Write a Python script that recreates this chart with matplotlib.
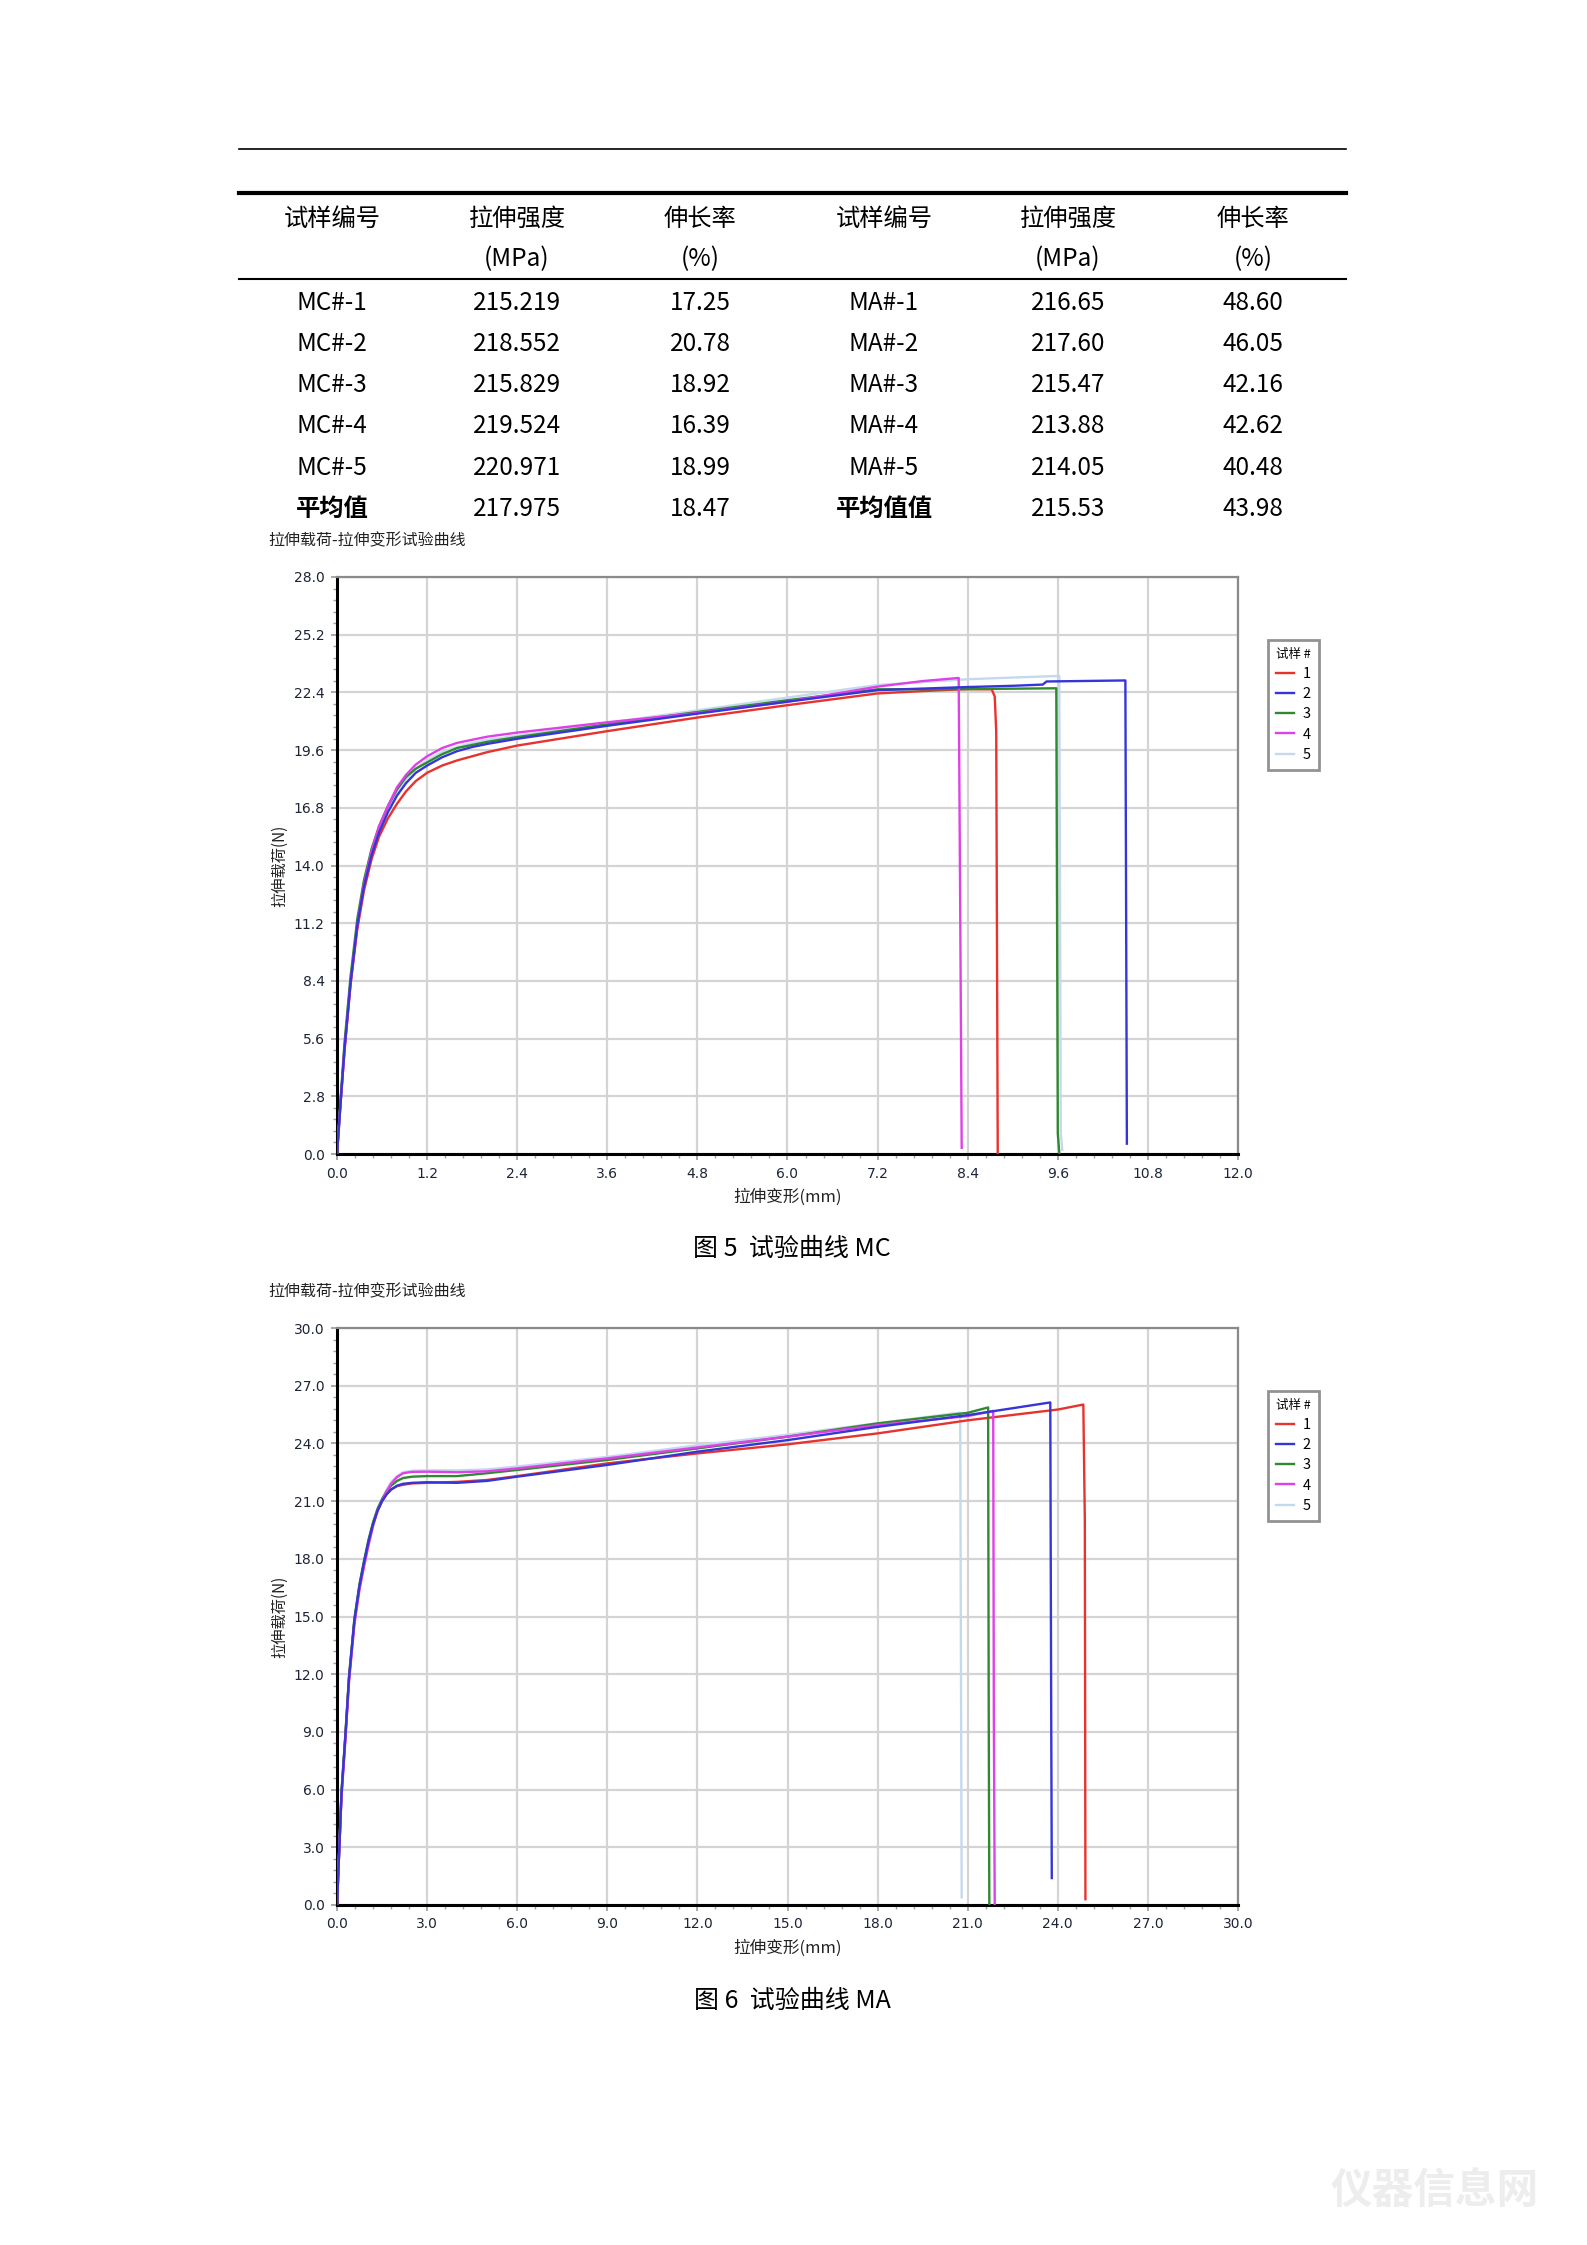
#!/usr/bin/env python3
"""
Tensile test report page: result table + load/extension curves (MC, MA)
"""

import matplotlib
matplotlib.use("Agg")
import matplotlib.pyplot as plt
from matplotlib.lines import Line2D
from matplotlib.ticker import MultipleLocator, AutoMinorLocator

plt.rcParams['font.family'] = ['Noto Sans CJK SC', 'DejaVu Sans']

W, H = 1587, 2245

# ---- table data ----
header_top = ['试样编号', '拉伸强度', '伸长率', '试样编号', '拉伸强度', '伸长率']
header_unit = ['', '(MPa)', '(%)', '', '(MPa)', '(%)']
mc_ids = ['MC#-1', 'MC#-2', 'MC#-3', 'MC#-4', 'MC#-5', '平均值']
mc_strength = ['215.219', '218.552', '215.829', '219.524', '220.971', '217.975']
mc_elong = ['17.25', '20.78', '18.92', '16.39', '18.99', '18.47']
ma_ids = ['MA#-1', 'MA#-2', 'MA#-3', 'MA#-4', 'MA#-5', '平均值值']
ma_strength = ['216.65', '217.60', '215.47', '213.88', '214.05', '215.53']
ma_elong = ['48.60', '46.05', '42.16', '42.62', '40.48', '43.98']

# ---- curve data, MC (x: mm, y: N) ----
mc_x_1 = [0, 0.05, 0.1, 0.18, 0.27, 0.36, 0.46, 0.56, 0.68, 0.8, 0.92, 1.05, 1.2, 1.4, 1.6, 1.8, 2.0, 2.4, 3.6, 4.8, 6.0, 7.2, 8.0, 8.4, 8.72, 8.76, 8.78, 8.8]
mc_y_1 = [0, 2.6, 5.0, 8.2, 10.9, 12.8, 14.3, 15.4, 16.3, 17.0, 17.6, 18.1, 18.5, 18.85, 19.1, 19.3, 19.5, 19.82, 20.52, 21.18, 21.78, 22.35, 22.5, 22.56, 22.55, 22.2, 20.5, 0.05]
mc_x_2 = [0, 0.05, 0.1, 0.18, 0.27, 0.36, 0.46, 0.56, 0.68, 0.8, 0.92, 1.05, 1.2, 1.4, 1.6, 1.8, 2.0, 2.4, 3.6, 4.8, 6.0, 7.2, 8.4, 9.0, 9.4, 9.45, 10.5, 10.52]
mc_y_2 = [0, 2.6, 5.1, 8.3, 11.1, 13.0, 14.5, 15.6, 16.6, 17.4, 18.0, 18.5, 18.85, 19.25, 19.55, 19.75, 19.9, 20.15, 20.78, 21.37, 21.95, 22.51, 22.66, 22.72, 22.78, 22.93, 22.98, 0.5]
mc_x_3 = [0, 0.05, 0.1, 0.18, 0.27, 0.36, 0.46, 0.56, 0.68, 0.8, 0.92, 1.05, 1.2, 1.4, 1.6, 1.8, 2.0, 2.4, 3.6, 4.8, 6.0, 7.2, 8.4, 9.0, 9.58, 9.6, 9.62]
mc_y_3 = [0, 2.8, 5.4, 8.6, 11.4, 13.3, 14.8, 15.9, 16.9, 17.7, 18.3, 18.7, 19.0, 19.4, 19.7, 19.85, 20.0, 20.23, 20.85, 21.45, 22.02, 22.55, 22.56, 22.58, 22.6, 1.0, 0.05]
mc_x_4 = [0, 0.05, 0.1, 0.18, 0.27, 0.36, 0.46, 0.56, 0.68, 0.8, 0.92, 1.05, 1.2, 1.4, 1.6, 1.8, 2.0, 2.4, 3.6, 4.8, 6.0, 7.2, 7.8, 8.28, 8.3, 8.32]
mc_y_4 = [0, 2.6, 5.1, 8.3, 11.1, 13.1, 14.7, 15.9, 16.9, 17.8, 18.4, 18.9, 19.3, 19.7, 19.95, 20.1, 20.25, 20.45, 20.95, 21.4, 21.95, 22.68, 22.95, 23.1, 12.0, 0.3]
mc_x_5 = [0, 0.05, 0.1, 0.18, 0.27, 0.36, 0.46, 0.56, 0.68, 0.8, 0.92, 1.05, 1.2, 1.4, 1.6, 1.8, 2.0, 2.4, 3.6, 4.8, 6.0, 7.2, 8.4, 9.0, 9.62, 9.64, 9.66]
mc_y_5 = [0, 2.6, 5.1, 8.3, 11.1, 13.0, 14.6, 15.8, 16.8, 17.6, 18.2, 18.7, 19.1, 19.5, 19.75, 19.95, 20.1, 20.3, 20.92, 21.53, 22.15, 22.76, 23.04, 23.12, 23.2, 1.0, 0.2]

# ---- curve data, MA ----
ma_x_1 = [0, 0.15, 0.28, 0.4, 0.58, 0.75, 0.9, 1.05, 1.2, 1.35, 1.5, 1.65, 1.8, 2.0, 2.2, 2.5, 3.0, 4.0, 5.0, 6.0, 9.0, 12.0, 15.0, 18.0, 21.0, 24.0, 24.85, 24.9, 24.92]
ma_y_1 = [0, 5.8, 8.8, 11.8, 14.8, 16.6, 17.8, 18.9, 19.8, 20.5, 21.0, 21.35, 21.6, 21.78, 21.85, 21.92, 21.95, 22.0, 22.1, 22.3, 22.96, 23.48, 23.95, 24.52, 25.2, 25.76, 26.02, 20.0, 0.3]
ma_x_2 = [0, 0.15, 0.28, 0.4, 0.58, 0.75, 0.9, 1.05, 1.2, 1.35, 1.5, 1.65, 1.8, 2.0, 2.2, 2.5, 3.0, 4.0, 5.0, 6.0, 9.0, 12.0, 15.0, 18.0, 21.0, 23.75, 23.78, 23.8]
ma_y_2 = [0, 5.8, 8.8, 11.8, 14.8, 16.6, 17.8, 18.9, 19.8, 20.5, 21.0, 21.35, 21.6, 21.8, 21.9, 21.95, 21.98, 21.95, 22.05, 22.27, 22.88, 23.57, 24.17, 24.86, 25.47, 26.13, 10.0, 1.4]
ma_x_3 = [0, 0.15, 0.28, 0.4, 0.58, 0.75, 0.9, 1.05, 1.2, 1.35, 1.5, 1.65, 1.8, 2.0, 2.2, 2.5, 3.0, 4.0, 5.0, 6.0, 9.0, 12.0, 15.0, 18.0, 21.0, 21.68, 21.7, 21.72]
ma_y_3 = [0, 5.9, 8.9, 11.9, 14.9, 16.7, 17.9, 19.0, 19.9, 20.6, 21.1, 21.5, 21.8, 22.05, 22.2, 22.27, 22.3, 22.3, 22.45, 22.62, 23.14, 23.74, 24.35, 25.04, 25.59, 25.87, 10.0, 0.05]
ma_x_4 = [0, 0.15, 0.28, 0.4, 0.58, 0.75, 0.9, 1.05, 1.2, 1.35, 1.5, 1.65, 1.8, 2.0, 2.2, 2.5, 3.0, 4.0, 5.0, 6.0, 9.0, 12.0, 15.0, 18.0, 21.0, 21.85, 21.87, 21.9]
ma_y_4 = [0, 5.6, 8.6, 11.6, 14.6, 16.4, 17.6, 18.7, 19.7, 20.5, 21.0, 21.5, 21.9, 22.25, 22.45, 22.52, 22.53, 22.5, 22.55, 22.7, 23.22, 23.79, 24.35, 24.95, 25.42, 25.69, 10.0, 0.05]
ma_x_5 = [0, 0.15, 0.28, 0.4, 0.58, 0.75, 0.9, 1.05, 1.2, 1.35, 1.5, 1.65, 1.8, 2.0, 2.2, 2.5, 3.0, 4.0, 5.0, 6.0, 9.0, 12.0, 15.0, 18.0, 20.75, 20.78, 20.8]
ma_y_5 = [0, 5.7, 8.7, 11.7, 14.7, 16.5, 17.7, 18.8, 19.8, 20.6, 21.1, 21.6, 22.0, 22.3, 22.5, 22.58, 22.6, 22.6, 22.65, 22.8, 23.3, 23.9, 24.45, 25.05, 25.6, 10.0, 0.4]

labels = ['1', '2', '3', '4', '5']
colors = ['#e8322d', '#3535d8', '#2f8a2f', '#e040e8', '#c5d9ee']

TICK_FONT = ['Liberation Sans Narrow', 'DejaVu Sans']
CJK = ['Noto Sans CJK SC', 'DejaVu Sans']


def fx(px):
    return px / W


def fy(py):
    return 1 - py / H


fig = plt.figure(figsize=(W / 100, H / 100), dpi=100)
fig.patch.set_facecolor('white')

# ---- table ----
for y, lw in [(149, 1.2), (193, 3.0), (279, 1.5)]:
    fig.add_artist(Line2D([fx(239), fx(1346)], [fy(y), fy(y)], color='black', lw=lw))

col_x = [332, 517, 700, 884, 1068, 1253]
for cx, t in zip(col_x, header_top):
    fig.text(fx(cx), fy(219), t, ha='center', va='center', fontsize=17.5, family=CJK)
for cx, t in zip(col_x, header_unit):
    if t:
        fig.text(fx(cx), fy(259), t, ha='center', va='center', fontsize=17.5, family=CJK)

row_y = [303, 344, 385, 426, 468, 509]
columns = [mc_ids, mc_strength, mc_elong, ma_ids, ma_strength, ma_elong]
for ci, (cx, col) in enumerate(zip(col_x, columns)):
    for ri, (ry, t) in enumerate(zip(row_y, col)):
        bold = ri == len(row_y) - 1 and ci in (0, 3)
        fig.text(fx(cx), fy(ry), t, ha='center', va='center', fontsize=17.5,
                 family=CJK, fontweight='bold' if bold else 'normal')


def draw_chart(top_px, xs, ys, xmax, xstep, ymax, ystep, title, caption, cap_y):
    left, right, bottom = 337, 1238, top_px + 577
    ax = fig.add_axes([fx(left), fy(bottom), fx(right - left), (bottom - top_px) / H])

    order = [4, 0, 2, 3, 1]
    handles = [None] * 5
    for i in order:
        ln, = ax.plot(xs[i], ys[i], color=colors[i], lw=1.7, label=labels[i], zorder=3)
        handles[i] = ln

    ax.set_xlim(0, xmax)
    ax.set_ylim(0, ymax)
    ax.xaxis.set_major_locator(MultipleLocator(xstep))
    ax.yaxis.set_major_locator(MultipleLocator(ystep))
    ax.xaxis.set_minor_locator(AutoMinorLocator(5))
    ax.yaxis.set_minor_locator(AutoMinorLocator(5))
    ax.xaxis.set_major_formatter(plt.FormatStrFormatter('%.1f'))
    ax.yaxis.set_major_formatter(plt.FormatStrFormatter('%.1f'))
    ax.grid(True, which='major', color='#d4d4d4', lw=1.6, zorder=0)
    ax.set_axisbelow(True)

    for s in ['top', 'right']:
        ax.spines[s].set_color('#8a8a8a')
        ax.spines[s].set_linewidth(1.6)
    for s in ['left', 'bottom']:
        ax.spines[s].set_color('black')
        ax.spines[s].set_linewidth(2.2)

    ax.tick_params(which='major', length=4, width=1.2, color='#9a9a9a', pad=5,
                   labelsize=10, labelcolor='#1c2436')
    ax.tick_params(which='minor', length=3, width=1.0, color='#a0a0a0')
    for lab in ax.get_xticklabels() + ax.get_yticklabels():
        lab.set_family(TICK_FONT)

    ax.set_xlabel('拉伸变形(mm)', fontsize=12, family=CJK, color='#222222', labelpad=6)
    ax.set_ylabel('拉伸载荷(N)', fontsize=11, family=CJK, color='#222222', labelpad=4)

    fig.text(fx(268), fy(top_px - 36), title, ha='left', va='center', fontsize=11.5,
             family=CJK, color='#222222')

    leg = ax.legend(handles=handles, title='试样 #', loc='upper left',
                    bbox_to_anchor=(fx(1268), fy(top_px + 63)), bbox_transform=fig.transFigure,
                    borderaxespad=0, fontsize=10.5, title_fontsize=9, handlelength=1.2,
                    handletextpad=0.6, labelspacing=0.42, borderpad=0.55,
                    fancybox=False, frameon=True)
    leg.get_frame().set_edgecolor('#777777')
    leg.get_frame().set_linewidth(2.0)
    leg._legend_box.align = 'left'

    fig.text(fx(792), fy(cap_y), caption, ha='center', va='center', fontsize=18, family=CJK)
    return ax


mc_xs = [mc_x_1, mc_x_2, mc_x_3, mc_x_4, mc_x_5]
mc_ys = [mc_y_1, mc_y_2, mc_y_3, mc_y_4, mc_y_5]
ma_xs = [ma_x_1, ma_x_2, ma_x_3, ma_x_4, ma_x_5]
ma_ys = [ma_y_1, ma_y_2, ma_y_3, ma_y_4, ma_y_5]

draw_chart(577, mc_xs, mc_ys, 12.0, 1.2, 28.0, 2.8,
           '拉伸载荷-拉伸变形试验曲线', '图 5  试验曲线 MC', 1249)
draw_chart(1328, ma_xs, ma_ys, 30.0, 3.0, 30.0, 3.0,
           '拉伸载荷-拉伸变形试验曲线', '图 6  试验曲线 MA', 2001)

# faint site watermark, bottom right
fig.text(fx(1435), fy(2192), '仪器信息网', ha='center', va='center', fontsize=30,
         fontweight='bold', family=CJK, color='#ededed')

fig.savefig('out.png', dpi=100, facecolor='white')
